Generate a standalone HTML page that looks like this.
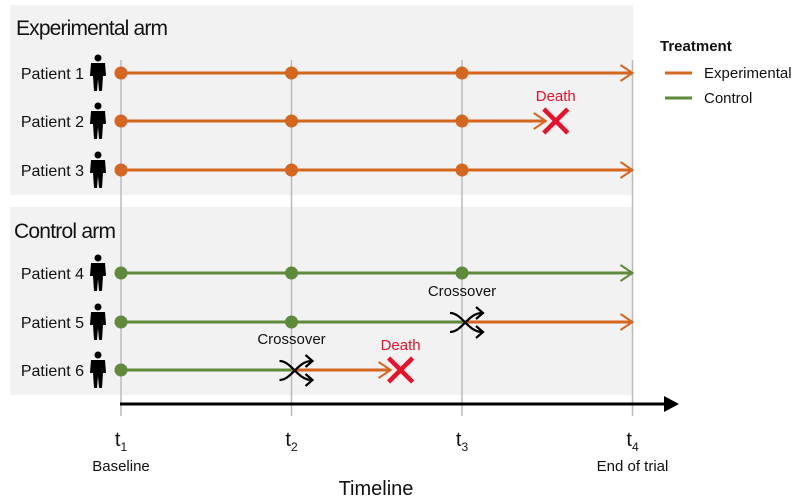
<!DOCTYPE html>
<html><head><meta charset="utf-8"><style>
body{margin:0;background:#fff;}
svg{display:block;font-family:"Liberation Sans",sans-serif;}
</style></head><body>
<svg id="chart" width="805" height="503" viewBox="0 0 805 503">
<rect x="10" y="5" width="623" height="190" fill="#f2f2f2"/>
<rect x="10" y="207" width="623" height="188" fill="#f2f2f2"/>
<text x="16" y="35" font-size="21" fill="#111" textLength="152">Experimental arm</text>
<text x="14" y="238" font-size="21" fill="#111" textLength="102">Control arm</text>
<g id="grid"></g>
<g id="rows"></g>
<line x1="120" y1="404" x2="668" y2="404" stroke="#000" stroke-width="3"/>
<path d="M664,396 L679,404 L664,412 Z" fill="#000"/>
<g id="ticks"></g>
<text x="376" y="495" font-size="20" text-anchor="middle" fill="#111">Timeline</text>
<text x="660" y="51" font-size="15" font-weight="bold" fill="#111">Treatment</text>
<line x1="665" y1="73" x2="692" y2="73" stroke="#d4661f" stroke-width="3"/>
<text x="704" y="78" font-size="15" fill="#111">Experimental</text>
<line x1="665" y1="98" x2="692" y2="98" stroke="#5f8a3c" stroke-width="3"/>
<text x="704" y="103" font-size="15" fill="#111">Control</text>
</svg>
<script>
const timeLabels = ["1","2","3","4"];
const timeCaptions = ["Baseline","","","End of trial"];
const patients = ["Patient 1","Patient 2","Patient 3","Patient 4","Patient 5","Patient 6"];
const startArm = ["exp","exp","exp","ctl","ctl","ctl"];
const endTime = [4,3.55,4,4,4,2.64];
const died = [false,true,false,false,false,true];
const crossoverTime = [null,null,null,null,3,2];
const visitTimes = [[1,2,3],[1,2,3],[1,2,3],[1,2,3],[1,2],[1]];
const rowY = [73,121,170,273,322,370];

const NS="http://www.w3.org/2000/svg";
const xs = t => 121 + (t-1)*170.5;
const col = {exp:"#d4661f", ctl:"#5f8a3c"};
function mk(tag, attrs, parent){const e=document.createElementNS(NS,tag);for(const k in attrs)e.setAttribute(k,attrs[k]);parent.appendChild(e);return e;}
const grid=document.getElementById('grid'), rows=document.getElementById('rows'), ticks=document.getElementById('ticks');
timeLabels.forEach((lab,i)=>{
  const x=xs(i+1);
  const l=mk('line',{x1:x,y1:60,x2:x,y2:416,stroke:"#bbb","stroke-width":1.5},grid);
  
  
  const t=mk('text',{x:x,y:446,"font-size":20,"text-anchor":"middle",fill:"#111"},ticks);
  
  
  t.textContent='t';
  const s=mk('tspan',{"font-size":12,dy:5},t); s.textContent=lab;
  if(timeCaptions[i]){
    const c=mk('text',{x:x,y:471,"font-size":15,"text-anchor":"middle",fill:"#111"},ticks);
    
    
    c.textContent=timeCaptions[i];
  }
});
function arrowHead(x,y,c,g){mk('path',{d:`M${x-12},${y-8} L${x},${y} L${x-12},${y+8}`,fill:"none",stroke:c,"stroke-width":2},g);}
function person(x,y,g){
  mk('circle',{cx:x,cy:y-15,r:3.5,fill:"#000"},g);
  mk('path',{d:`M${x-7},${y-10} L${x+7},${y-10} L${x+8},${y+3} L${x+5},${y+3} L${x+4},${y+18} L${x+1},${y+18} L${x},${y+6} L${x-1},${y+18} L${x-4},${y+18} L${x-5},${y+3} L${x-8},${y+3} Z`,fill:"#000"},g);
}
function crossIcon(x,y,g){
  const p=mk('path',{d:`M${x-16},${y-9} C${x-4},${y-9} ${x+2},${y+10} ${x+16},${y+10} M${x-16},${y+10} C${x-4},${y+10} ${x+2},${y-9} ${x+16},${y-9} M${x+10},${y-15} L${x+17},${y-9} L${x+10},${y-3} M${x+10},${y+4} L${x+17},${y+10} L${x+10},${y+16}`,fill:"none",stroke:"#000","stroke-width":2.2},g);
}
patients.forEach((name,i)=>{
  const y=rowY[i];
  const g=mk('g',{},rows);
  
  
  const lt=mk('text',{x:84,y:y+6,"font-size":16,"text-anchor":"end",fill:"#111"},g);
  
  
  lt.textContent=name;
  const pg=mk('g',{},g);
  
  
  person(98,y,pg);
  const c0=col[startArm[i]], cx=crossoverTime[i];
  const segEnd = cx!=null?cx:endTime[i];
  const s1=mk('line',{x1:xs(1),y1:y,x2:xs(segEnd),y2:y,stroke:c0,"stroke-width":3},g);
  
  
  let endCol=c0;
  if(cx!=null){
    endCol=col.exp;
    const s2=mk('line',{x1:xs(cx),y1:y,x2:xs(endTime[i])-2,y2:y,stroke:endCol,"stroke-width":3},g);
    
    
  } else {
    s1.setAttribute('x2',xs(endTime[i])-2);
  }
  const ex=died[i]?xs(endTime[i])-10:xs(endTime[i]);
  if(died[i]){ g.lastChild.setAttribute('x2',ex); }
  arrowHead(ex,y,endCol,g);
  visitTimes[i].forEach(t=>{
    const d=mk('circle',{cx:xs(t),cy:y,r:6.5,fill:c0},g);
    
    
  });
  if(cx!=null){
    const cg=mk('g',{},g);
    
    
    crossIcon(xs(cx)+4,y,cg);
    const ct=mk('text',{x:xs(cx),y:y-26,"font-size":15,"text-anchor":"middle",fill:"#111"},cg);
    ct.textContent="Crossover";
  }
  if(died[i]){
    const dx=xs(endTime[i]), dg=mk('g',{},g);
    
    
    mk('path',{d:`M${dx-12},${y-12} L${dx+12},${y+12} M${dx-12},${y+12} L${dx+12},${y-12}`,stroke:"#e8102a","stroke-width":4.5},dg);
    const dt=mk('text',{x:dx,y:y-20,"font-size":15,"text-anchor":"middle",fill:"#e8102a"},dg);
    dt.textContent="Death";
  }
});
</script>
</body></html>
